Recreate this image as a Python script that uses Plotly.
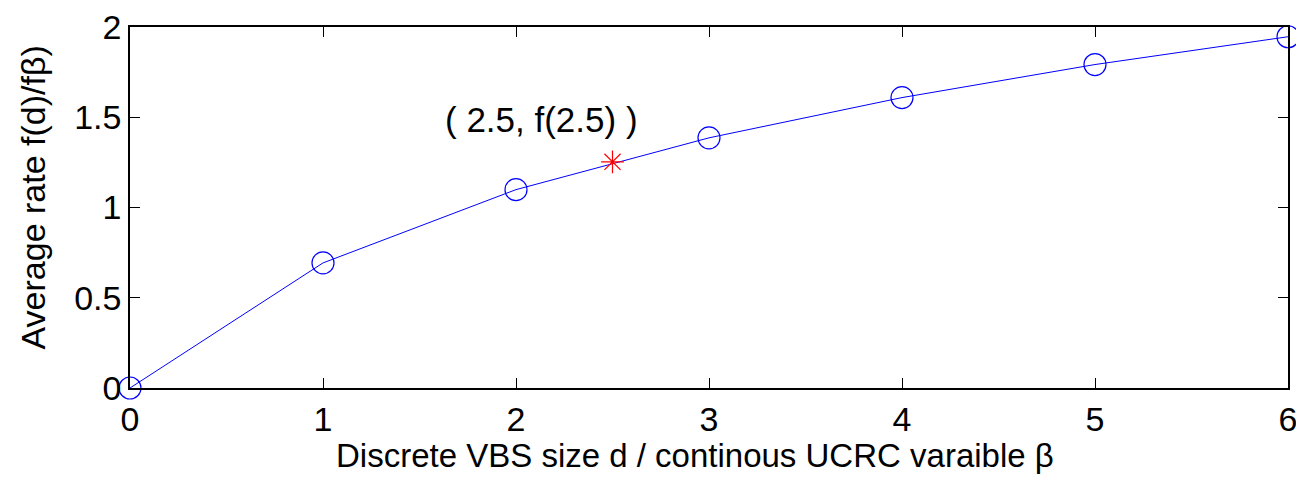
import plotly.graph_objects as go

d_vals = [0, 1, 2, 3, 4, 5, 6]
f_vals = [0.0, 0.693, 1.099, 1.386, 1.609, 1.792, 1.946]
beta_pt = [2.5]
f_beta = [1.253]
x_ticks = [0, 1, 2, 3, 4, 5, 6]
y_ticks = [0, 0.5, 1, 1.5, 2]
y_tick_text = ["0", "0.5", "1", "1.5", "2"]

font = "Liberation Sans, Arial, sans-serif"

fig = go.Figure()
fig.add_trace(go.Scatter(
    x=d_vals, y=f_vals, mode="lines+markers",
    line=dict(color="#0000FF", width=1),
    marker=dict(symbol="circle-open", size=22, color="#0000FF", line=dict(width=1.2)),
    cliponaxis=False, showlegend=False))
fig.add_trace(go.Scatter(
    x=beta_pt, y=f_beta, mode="markers",
    marker=dict(symbol="asterisk-open", size=19, color="#FF0000", line=dict(width=1.2, color="#FF0000")),
    cliponaxis=False, showlegend=False))

fig.add_annotation(x=2.13, y=1.485, text="( 2.5, f(2.5) )", showarrow=False,
                   font=dict(size=35, color="black", family=font))

# axis titles as annotations for exact placement
fig.add_annotation(x=0.488, y=-0.186, xref="paper", yref="paper",
                   text="Discrete VBS size d / continous UCRC varaible β", showarrow=False,
                   xanchor="center", yanchor="middle", borderpad=0,
                   font=dict(size=33, color="black", family=font))
fig.add_annotation(x=-0.084, y=0.527, xref="paper", yref="paper",
                   text="Average rate f(d)/fβ)", showarrow=False, textangle=-90,
                   xanchor="center", yanchor="middle",
                   font=dict(size=34, color="black", family=font))

axis_common = dict(showline=True, linecolor="black", linewidth=1.5, mirror="ticks",
                   ticks="inside", ticklen=10, tickcolor="black", tickwidth=1,
                   showgrid=False, zeroline=False, automargin=False,
                   ticklabeloverflow="allow",
                   tickfont=dict(size=34, color="black", family=font))

fig.update_xaxes(range=[0, 6], tickvals=x_ticks, **axis_common)
fig.update_yaxes(range=[0, 2], tickvals=y_ticks, ticktext=y_tick_text, **axis_common)

fig.update_layout(width=1288, height=469, plot_bgcolor="white", paper_bgcolor="white",
                  margin=dict(l=122, r=8, t=19, b=89))

fig.write_html("out.html")
